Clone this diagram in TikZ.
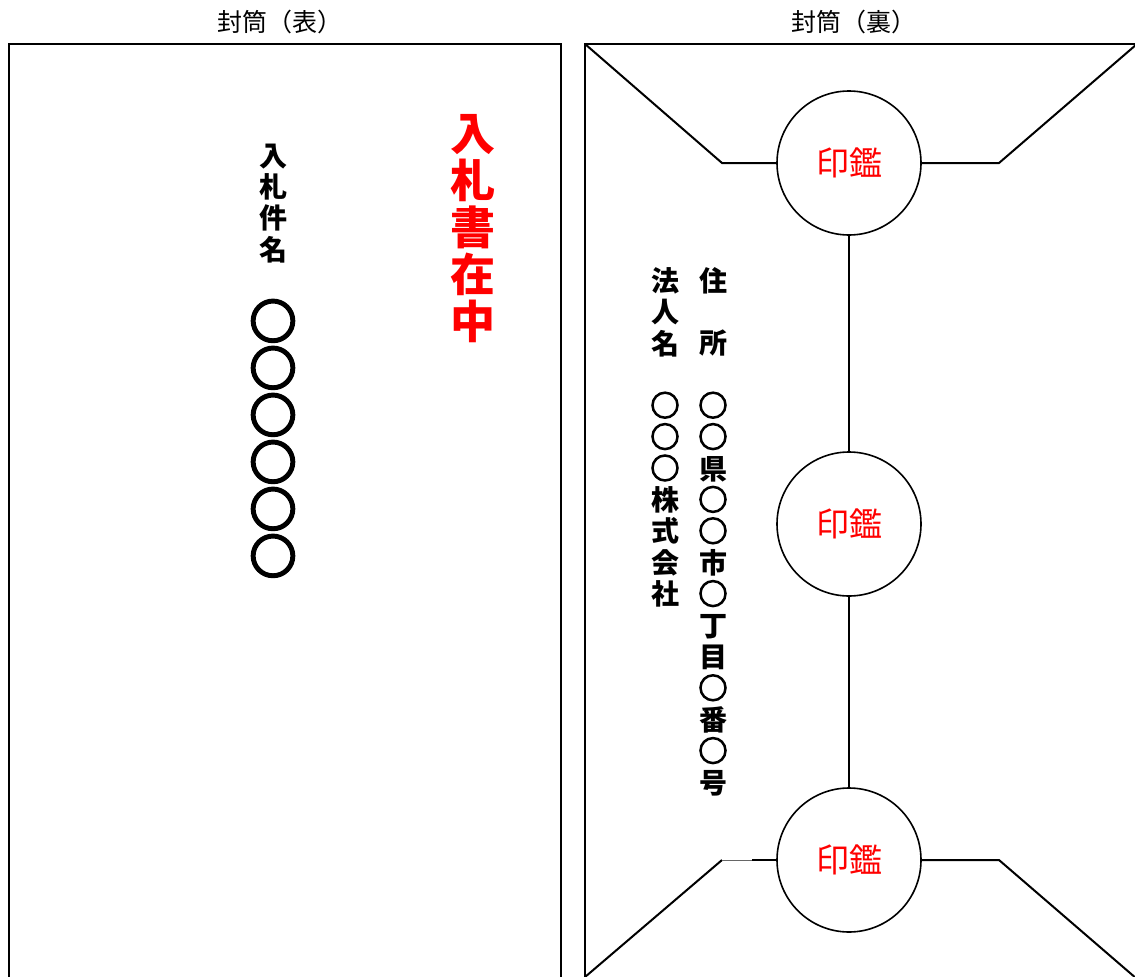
\documentclass[tikz,border=0pt]{standalone}
\usepackage{fontspec}
\newfontfamily\cjk{Noto Sans CJK JP}
\newfontfamily\circfont[FakeBold=5]{Noto Sans CJK JP}
\newfontfamily\bigcircfont[FakeBold=7]{Noto Sans CJK JP}
\definecolor{stampred}{RGB}{255,0,0}
\tikzset{
  line/.style={line width=2pt, line join=miter},
  seal/.style={circle, draw, line width=1.6pt, minimum size=144pt, inner sep=0pt, font=\cjk\fontsize{33}{33}\selectfont, text=stampred},
  vchar/.style={inner sep=0pt, anchor=base},
  k/.style={font=\cjk\bfseries\fontsize{28}{28}\selectfont},
  c/.style={font=\circfont\fontsize{29}{29}\selectfont},
  title/.style={inner sep=0pt, font=\cjk\fontsize{25}{25}\selectfont},
}
\begin{document}
\begin{tikzpicture}[x=1pt,y=-1pt]
\useasboundingbox (0,0) rectangle (1135,977);
% titles
\node[title] (t1) at (280,22) {封筒（表）};
\node[title] (t2) at (854,22) {封筒（裏）};
% front envelope
\draw[line] (9,990) -- (9,44) -- (561,44) -- (561,990);
% back envelope frame
\draw[line] (585,990) -- (585,44) -- (1140,44);
% seals
\node[seal] (s1) at (849,163) {印鑑};
\node[seal] (s2) at (849,524) {印鑑};
\node[seal] (s3) at (849,860) {印鑑};
\draw[line width=1.6pt] (s1.south) -- (s2.north);
\draw[line width=1.6pt] (s2.south) -- (s3.north);
% top flap
\coordinate (tl) at (585,44);
\coordinate (tlk) at (722,163);
\coordinate (trk) at (999,163);
\coordinate (tr) at (1137,44);
\draw[line] (tl) -- (tlk) -- (s1.west);
\draw[line] (s1.east) -- (trk) -- (tr);
% bottom flap
\coordinate (bl) at (585,977);
\coordinate (blk) at (722,860);
\coordinate (blm) at (752,860);
\coordinate (brk) at (999,860);
\coordinate (br) at (1137,979);
\draw[line] (bl) -- (blk);
\draw[line width=0.6pt, black!60] (blk) -- (blm);
\draw[line] (blm) -- (s3.west);
\draw[line] (s3.east) -- (brk) -- (br);
% front texts
\foreach \ch [count=\i] in {入,札,件,名}
  \node[vchar, k] (k\i) at (273,{155+11.2+31.3*(\i-1)}) {\ch};
\foreach \i in {1,...,6}
  \node[vchar, font=\bigcircfont\fontsize{46}{46}\selectfont] (o\i) at (273,{320+18.4+47*(\i-1)}) {○};
\foreach \ch [count=\i] in {入,札,書,在,中}
  \node[vchar, text=stampred, font=\cjk\bfseries\fontsize{45}{45}\selectfont] (r\i) at (473,{132+18+47.2*(\i-1)}) {\ch};
% back texts
\node[vchar, k] (j1) at (713,{280+11.2}) {住};
\node[vchar, k] (j2) at (713,{342+11.2}) {所};
\foreach \ch/\st [count=\i] in {○/c,○/c,県/k,○/c,○/c,市/k,○/c,丁/k,目/k,○/c,番/k,○/c,号/k}
  \node[vchar, \st] (a\i) at (713,{405+11.2+31.4*(\i-1)}) {\ch};
\foreach \ch [count=\i] in {法,人,名}
  \node[vchar, k] (h\i) at (665,{280+11.2+31.4*(\i-1)}) {\ch};
\foreach \ch/\st [count=\i] in {○/c,○/c,○/c,株/k,式/k,会/k,社/k}
  \node[vchar, \st] (c\i) at (665,{405+11.2+31.4*(\i-1)}) {\ch};
\end{tikzpicture}
\end{document}
